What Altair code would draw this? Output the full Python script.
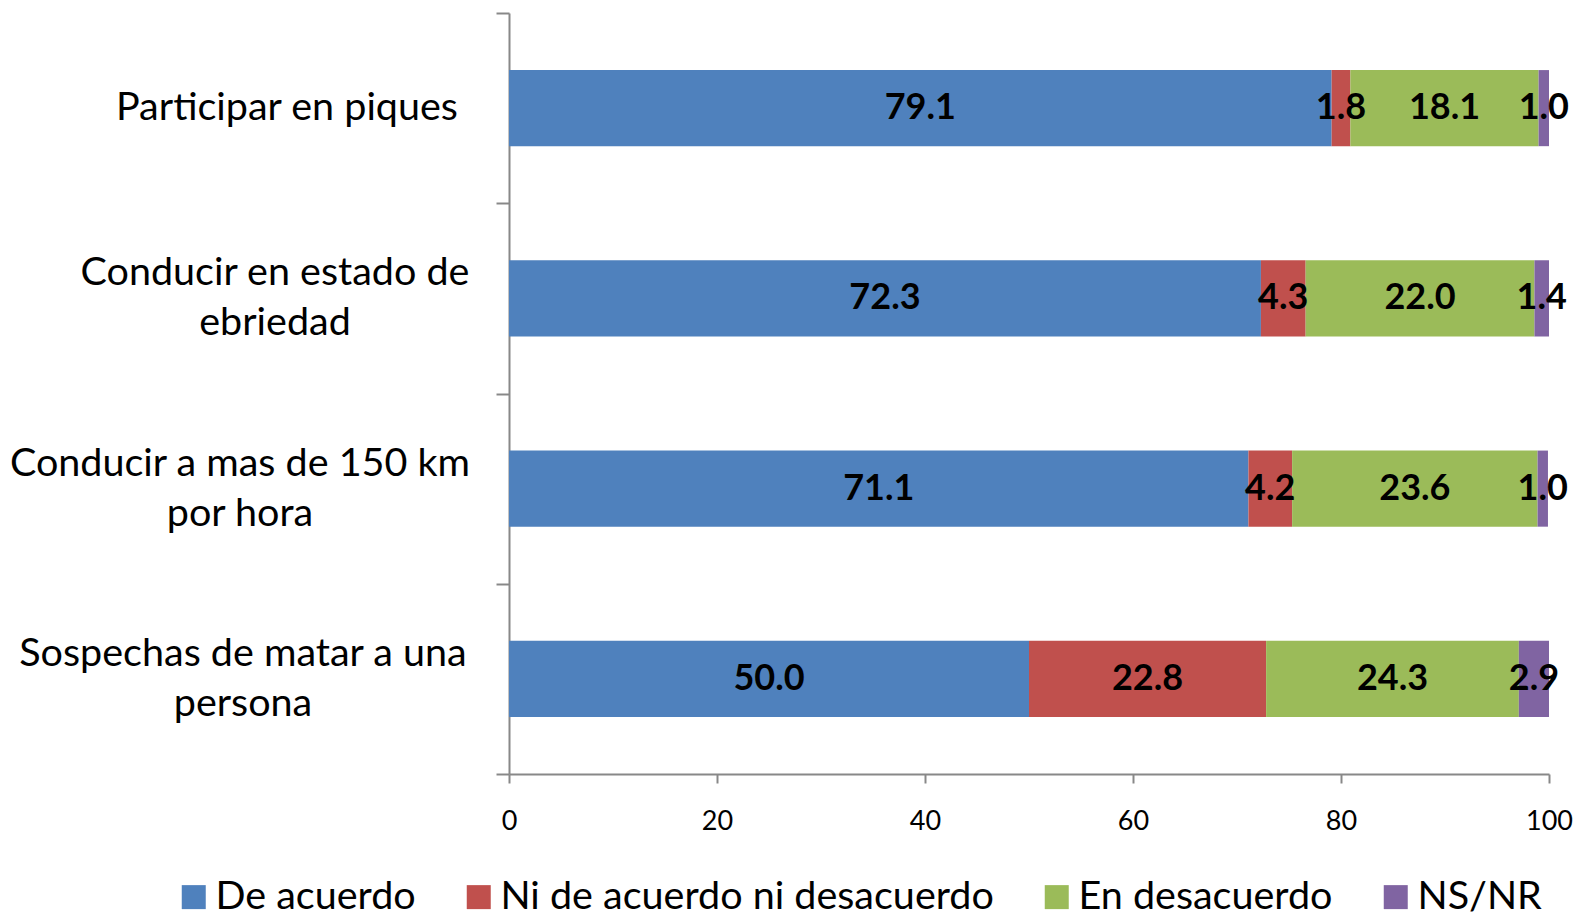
import altair as alt
import pandas as pd

categories = [
    "Participar en piques",
    "Conducir en estado de\nebriedad",
    "Conducir a mas de 150 km\npor hora",
    "Sospechas de matar a una\npersona",
]
series = ["De acuerdo", "Ni de acuerdo ni desacuerdo", "En desacuerdo", "NS/NR"]
de_acuerdo = [79.1, 72.3, 71.1, 50.0]
ni_de_acuerdo = [1.8, 4.3, 4.2, 22.8]
en_desacuerdo = [18.1, 22.0, 23.6, 24.3]
ns_nr = [1.0, 1.4, 1.0, 2.9]
colors = ["#4F81BD", "#C0504D", "#9BBB59", "#8064A2"]
x_ticks = [0, 20, 40, 60, 80, 100]

values = [de_acuerdo, ni_de_acuerdo, en_desacuerdo, ns_nr]
rows = []
for ci, cat in enumerate(categories):
    for si, s in enumerate(series):
        rows.append({"cat": cat, "series": s, "idx": si, "value": values[si][ci]})
df = pd.DataFrame(rows)
df_cats = pd.DataFrame({"cat": categories})

FONT = "Lato"
GRAY = "#888888"
LINE_H = 50

y_scale = alt.Scale(domain=categories, paddingInner=0, paddingOuter=0)
x_scale = alt.Scale(domain=[0, 100], nice=False)

y_enc = alt.Y(
    "cat:N",
    sort=categories,
    title=None,
    scale=y_scale,
    axis=alt.Axis(
        labels=False,
        domainColor=GRAY,
        domainWidth=2,
        tickColor=GRAY,
        tickWidth=2,
        tickSize=13,
        tickBand="extent",
    ),
)

bars = alt.Chart(df).mark_bar(height={"band": 0.4}).encode(
    x=alt.X(
        "value:Q",
        stack="zero",
        scale=x_scale,
        title=None,
        axis=alt.Axis(
            values=x_ticks,
            grid=False,
            labelFlush=False,
            labelFont=FONT,
            labelFontSize=27,
            labelColor="black",
            labelPadding=25,
            domainColor=GRAY,
            domainWidth=2,
            tickColor=GRAY,
            tickWidth=2,
            tickSize=9,
        ),
    ),
    y=y_enc,
    color=alt.Color(
        "series:N",
        sort=series,
        scale=alt.Scale(domain=series, range=colors),
        legend=alt.Legend(
            title=None,
            orient="none",
            direction="horizontal",
            legendX=-335,
            legendY=864,
            symbolType="square",
            symbolSize=576,
            symbolStrokeWidth=0,
            symbolOpacity=1,
            labelFont=FONT,
            labelFontSize=39.5,
            labelColor="black",
            labelOffset=2,
            labelLimit=0,
            columnPadding=43,
        ),
    ),
    order=alt.Order("idx:Q"),
)

value_labels = (
    alt.Chart(df)
    .transform_window(cum="sum(value)", groupby=["cat"], sort=[alt.SortField("idx")])
    .transform_calculate(mid="datum.cum - datum.value / 2")
    .mark_text(font=FONT, fontSize=36, fontWeight="bold", color="black")
    .encode(
        x=alt.X("mid:Q", scale=x_scale, title=None),
        y=alt.Y("cat:N", sort=categories, title=None, scale=y_scale),
        text=alt.Text("value:Q", format=".1f"),
    )
)

# category labels: centred multi-line text left of the axis
label_centres = {
    categories[0]: -222,
    categories[1]: -234,
    categories[2]: -269,
    categories[3]: -266,
}
cat_layers = []
for cat, cx in label_centres.items():
    n_lines = cat.count("\n") + 1
    cat_layers.append(
        alt.Chart(df_cats)
        .transform_filter(alt.datum.cat == cat)
        .mark_text(
            font=FONT,
            fontSize=39.5,
            color="black",
            align="center",
            baseline="middle",
            lineBreak="\n",
            lineHeight=LINE_H,
            dy=-(n_lines - 1) * LINE_H / 2,
        )
        .encode(
            x=alt.value(cx),
            y=alt.Y("cat:N", sort=categories, title=None, scale=y_scale),
            text=alt.Text("cat:N"),
        )
    )

chart = (
    alt.layer(bars, value_labels, *cat_layers)
    .properties(
        width=1040,
        height=761,
        autosize=alt.AutoSizeParams(type="none"),
        padding={"left": 501, "top": 5, "right": 24, "bottom": 140},
    )
    .configure_view(stroke=None)
)

chart.save("out.html", embed_options={"renderer": "svg", "actions": False})
